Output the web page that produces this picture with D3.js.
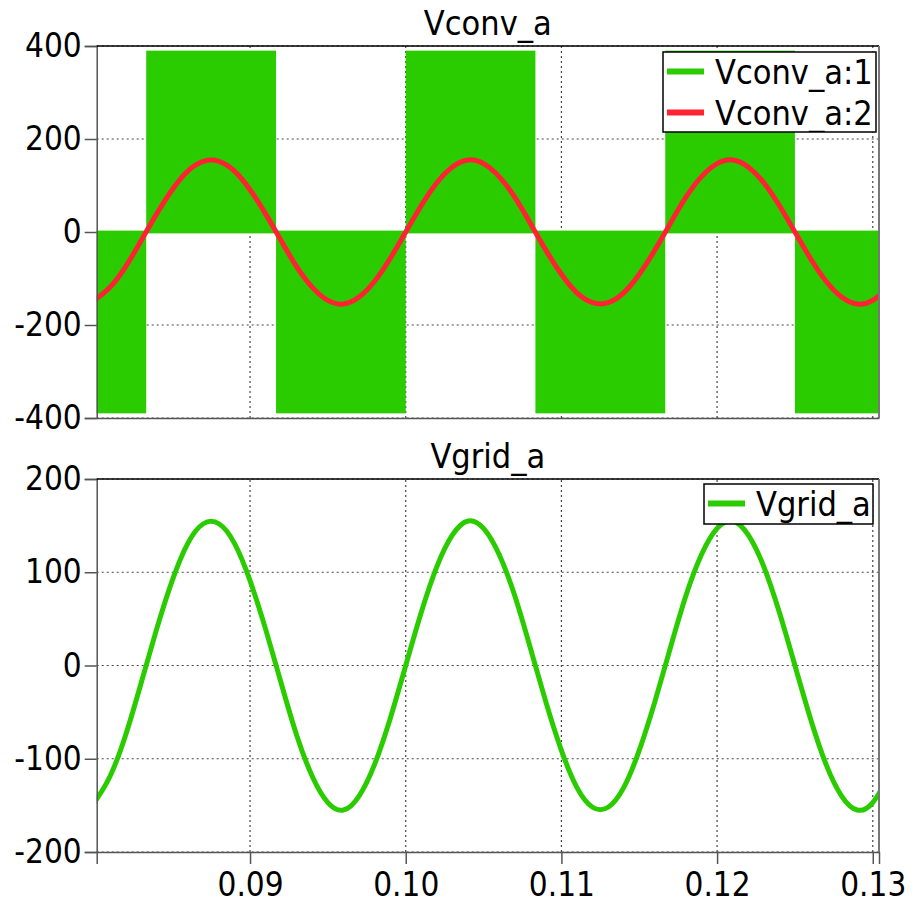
<!DOCTYPE html>
<html>
<head>
<meta charset="utf-8">
<script src="https://cdn.jsdelivr.net/npm/d3@7"></script>
<style>
  html, body { margin: 0; padding: 0; background: #fff; }
  svg text { font-family: "DejaVu Sans Condensed", "DejaVu Sans", sans-serif; font-stretch: condensed; fill: #000; }
</style>
</head>
<body>
<svg id="chart" width="916" height="906"></svg>
<script>
// Time samples (s) and the 60 Hz reference / grid voltage (V)
const time = [0.080,0.081,0.082,0.083,0.084,0.085,0.086,0.087,0.088,0.089,
              0.090,0.091,0.092,0.093,0.094,0.095,0.096,0.097,0.098,0.099,
              0.100,0.101,0.102,0.103,0.104,0.105,0.106,0.107,0.108,0.109,
              0.110,0.111,0.112,0.113,0.114,0.115,0.116,0.117,0.118,0.119,
              0.120,0.121,0.122,0.123,0.124,0.125,0.126,0.127,0.128,0.129,
              0.130,0.131];
const vconvRef = [-147,-119,-75,-19,39,91,131,152,152,131,
                  91,39,-19,-75,-119,-147,-155,-140,-106,-57,
                  0,57,106,140,155,147,119,75,19,-39,
                  -91,-131,-152,-152,-131,-91,-39,19,75,119,
                  147,155,140,106,57,0,-57,-106,-140,-155,
                  -147,-119];
const vgrid = [-147,-119,-75,-19,39,91,131,152,152,131,
               91,39,-19,-75,-119,-147,-155,-140,-106,-57,
               0,57,106,140,155,147,119,75,19,-39,
               -91,-131,-152,-152,-131,-91,-39,19,75,119,
               147,155,140,106,57,0,-57,-106,-140,-155,
               -147,-119];

// Converter PWM output: switching envelope per half cycle
const pwmStart = [0.0800, 0.08333, 0.09167, 0.10000, 0.10833, 0.11667, 0.12500];
const pwmEnd   = [0.08333, 0.09167, 0.10000, 0.10833, 0.11667, 0.12500, 0.1310];
const pwmHigh  = [3, 390, 3, 390, 3, 390, 3];
const pwmLow   = [-390, -3, -390, -3, -390, -3, -390];

const xTicks = [0.09, 0.10, 0.11, 0.12, 0.13];
const yTicksTop = [-400, -200, 0, 200, 400];
const yTicksBottom = [-200, -100, 0, 100, 200];

const GREEN = "#2acc00";
const RED = "#ff2233";

const svg = d3.select("#chart");
const left = 96.7, right = 879;
const x = d3.scaleLinear().domain([0.08015, 0.1304]).range([left, right]);
const yTop = d3.scaleLinear().domain([-400, 400]).range([418, 46]);
const yBot = d3.scaleLinear().domain([-200, 200]).range([852, 479]);

function panel(id, y, yTicks, title, showX) {
  const g = svg.append("g");
  const [y0, y1] = y.range();
  g.append("clipPath").attr("id", id).append("rect")
    .attr("x", left).attr("y", y1).attr("width", right - left).attr("height", y0 - y1);

  // grid
  const grid = g.append("g").attr("stroke", "#444").attr("stroke-width", 1.2)
    .attr("stroke-dasharray", "2,3");
  grid.selectAll(".gx").data(xTicks).join("line")
    .attr("x1", d => x(d)).attr("x2", d => x(d)).attr("y1", y0).attr("y2", y1);
  grid.selectAll(".gy").data(yTicks).join("line")
    .attr("x1", left).attr("x2", right).attr("y1", d => y(d)).attr("y2", d => y(d));

  const plot = g.append("g").attr("clip-path", `url(#${id})`);

  // y axis
  const ya = g.append("g").attr("transform", `translate(${left},0)`)
    .call(d3.axisLeft(y).tickValues(yTicks).tickSize(12).tickPadding(3).tickFormat(d => String(d)));
  ya.select(".domain").attr("stroke", "#555").attr("stroke-width", 1.5);
  ya.selectAll(".tick line").attr("stroke", "#555").attr("stroke-width", 1.5);
  ya.selectAll(".tick text").style("font-size", "33px");

  // x axis
  const xa = g.append("g").attr("transform", `translate(0,${y0})`)
    .call(d3.axisBottom(x).tickValues(xTicks).tickSize(showX ? 12 : 0).tickPadding(9)
      .tickFormat(d => showX ? d3.format(".2f")(d) : ""));
  xa.select(".domain").attr("stroke", "#555").attr("stroke-width", 1.5);
  xa.selectAll(".tick line").attr("stroke", "#555").attr("stroke-width", 1.5);
  xa.selectAll(".tick text").style("font-size", "33px");

  // frame top / right
  g.append("line").attr("x1", left).attr("x2", right).attr("y1", y1).attr("y2", y1)
    .attr("stroke", "#000").attr("stroke-width", 1.5);
  g.append("line").attr("x1", right).attr("x2", right).attr("y1", y1).attr("y2", y0)
    .attr("stroke", "#777").attr("stroke-width", 2);

  // title
  g.append("text").attr("x", (left + right) / 2).attr("y", y1 - 11)
    .attr("text-anchor", "middle").style("font-size", "34px").text(title);

  return plot;
}

const line = (y, vals) => d3.line().x((d, i) => x(time[i])).y(d => y(d)).curve(d3.curveNatural)(vals);

// ---- top panel ----
const plotTop = panel("clipTop", yTop, yTicksTop, "Vconv_a", false);
plotTop.selectAll("rect.pwm").data(pwmStart).join("rect")
  .attr("x", (d, i) => x(pwmStart[i]))
  .attr("width", (d, i) => x(pwmEnd[i]) - x(pwmStart[i]))
  .attr("y", (d, i) => yTop(pwmHigh[i]))
  .attr("height", (d, i) => yTop(pwmLow[i]) - yTop(pwmHigh[i]))
  .attr("fill", GREEN);
plotTop.append("path").attr("d", line(yTop, vconvRef))
  .attr("fill", "none").attr("stroke", RED).attr("stroke-width", 5);

// ---- bottom panel ----
const plotBot = panel("clipBot", yBot, yTicksBottom, "Vgrid_a", true);
plotBot.append("path").attr("d", line(yBot, vgrid))
  .attr("fill", "none").attr("stroke", GREEN).attr("stroke-width", 5);

// ---- legends ----
function legend(x0, y0, w, h, items, id) {
  const g = svg.append("g");
  g.append("clipPath").attr("id", id).append("rect")
    .attr("x", x0).attr("y", y0).attr("width", w).attr("height", h);
  g.append("rect").attr("x", x0).attr("y", y0).attr("width", w).attr("height", h)
    .attr("fill", "#fff").attr("stroke", "#000").attr("stroke-width", 1.5);
  const inner = g.append("g").attr("clip-path", `url(#${id})`);
  items.forEach((it, i) => {
    const cy = y0 + 19.5 + i * 41;
    inner.append("line").attr("x1", x0 + 4).attr("x2", x0 + 41).attr("y1", cy).attr("y2", cy)
      .attr("stroke", it.color).attr("stroke-width", 6);
    inner.append("text").attr("x", x0 + 52).attr("y", cy + 12)
      .style("font-size", "34px").text(it.label);
  });
}
legend(663, 52, 213, 80, [{label: "Vconv_a:1", color: GREEN}, {label: "Vconv_a:2", color: RED}], "lgTop");
legend(704, 484, 169, 40, [{label: "Vgrid_a", color: GREEN}], "lgBot");
</script>
</body>
</html>
